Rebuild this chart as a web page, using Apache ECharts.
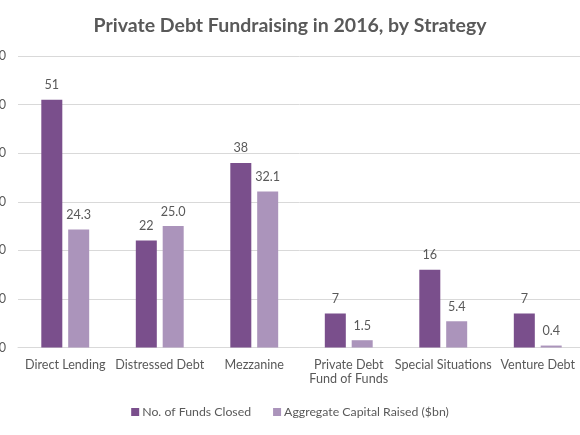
<!DOCTYPE html>
<html><head><meta charset="utf-8">
<script src="https://cdn.jsdelivr.net/npm/echarts@6/dist/echarts.min.js"></script>
<style>html,body{margin:0;padding:0;background:#fff}#c{width:580px;height:435px}</style>
</head><body><div id="c"></div>
<script>
var categories = ['Direct Lending', 'Distressed Debt', 'Mezzanine', 'Private Debt\nFund of Funds', 'Special Situations', 'Venture Debt'];
var fundsClosed = [51, 22, 38, 7, 16, 7];
var capitalRaised = [24.3, 25.0, 32.1, 1.5, 5.4, 0.4];
var yTicks = [0, 60, 10];
var chart = echarts.init(document.getElementById('c'));
var font = 'Lato';
chart.setOption({
  animation: false,
  title: {text: 'Private Debt Fundraising in 2016, by Strategy', left: 'center', top: 11,
    textStyle: {fontFamily: font, fontSize: 19.5, fontWeight: 'bold', color: '#595959'}},
  legend: {bottom: 12, left: 'center', itemWidth: 8, itemHeight: 8, itemGap: 22, icon: 'rect',
    textStyle: {fontFamily: font, fontSize: 12.3, color: '#595959', padding: [0,0,0,-2]}},
  grid: {left: 18, right: -5, top: 56, bottom: 87.5, containLabel: false, outerBoundsMode: 'none'},
  xAxis: {type: 'category', data: categories,
    axisLine: {lineStyle: {color: '#d9d9d9'}}, axisTick: {show: false},
    axisLabel: {fontFamily: font, fontSize: 12.6, color: '#595959', margin: 10, interval: 0, lineHeight: 14}},
  yAxis: {type: 'value', min: yTicks[0], max: yTicks[1], interval: yTicks[2],
    axisLine: {show: false}, axisTick: {show: false},
    splitLine: {lineStyle: {color: '#d9d9d9'}},
    axisLabel: {fontFamily: font, fontSize: 12.6, color: '#595959', margin: 12}},
  series: [
    {name: 'No. of Funds Closed', type: 'bar', data: fundsClosed, barWidth: 21, barGap: '28%',
      itemStyle: {color: '#7a4f8c'},
      label: {show: true, position: 'top', distance: 8, fontFamily: font, fontSize: 12.6, color: '#595959'}},
    {name: 'Aggregate Capital Raised ($bn)', type: 'bar', data: capitalRaised, barWidth: 21,
      itemStyle: {color: '#ab94bb'},
      label: {show: true, position: 'top', distance: 8, fontFamily: font, fontSize: 12.6, color: '#595959',
        formatter: function(p){return p.value.toFixed(1);}}}
  ]
});
</script></body></html>
